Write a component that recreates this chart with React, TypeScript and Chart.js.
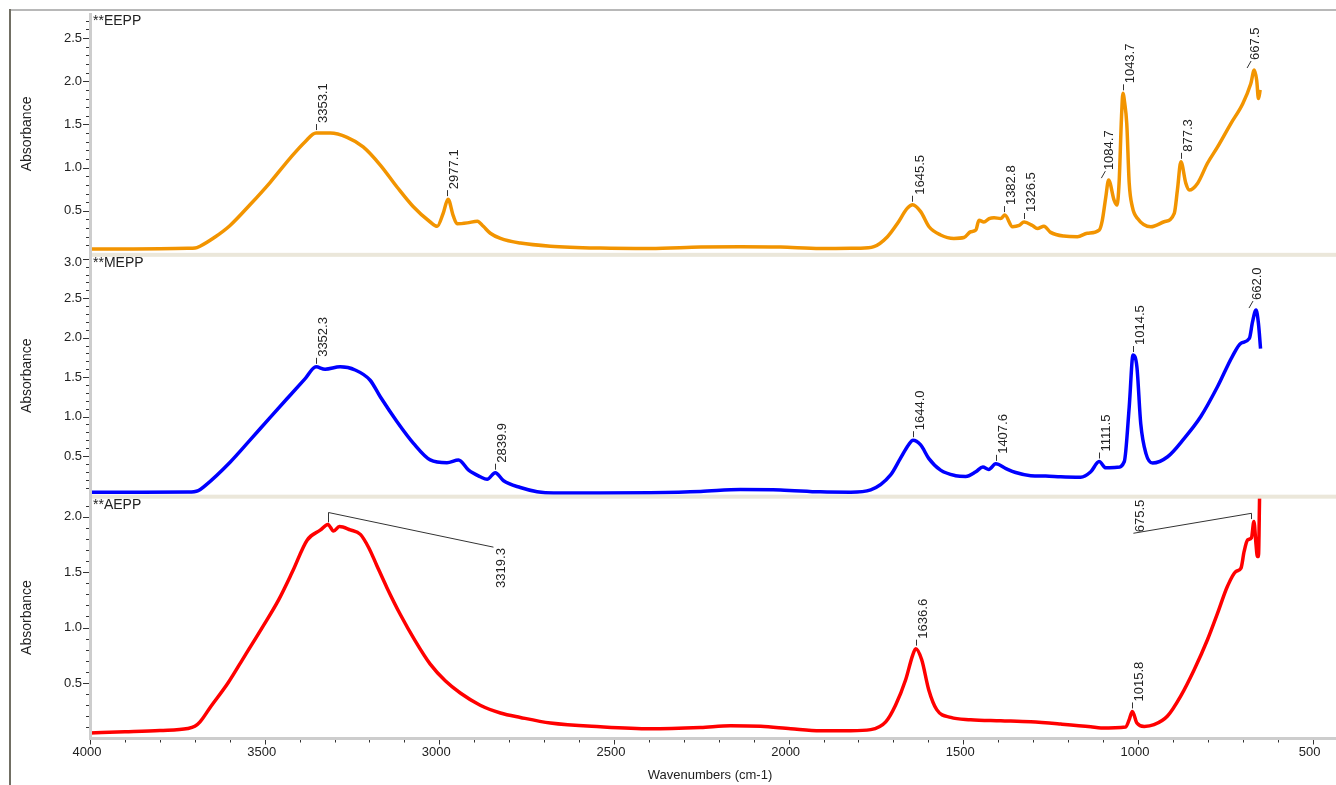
import React, { useEffect, useRef } from "react";
import { Chart, registerables } from "chart.js";

Chart.register(...registerables);

// ---------------- data ----------------
const xTickLabels = ["4000", "3500", "3000", "2500", "2000", "1500", "1000", "500"];
const panelTitles = ["**EEPP", "**MEPP", "**AEPP"];
const yAxisTitle = "Absorbance";
const xAxisTitle = "Wavenumbers (cm-1)";

const eeppYTicks = ["0.5", "1.0", "1.5", "2.0", "2.5"];
const meppYTicks = ["0.5", "1.0", "1.5", "2.0", "2.5", "3.0"];
const aeppYTicks = ["0.5", "1.0", "1.5", "2.0"];

const eeppWavenumbers = [
  4000, 3900, 3800, 3720, 3699, 3685, 3642, 3599, 3542, 3484, 3427, 3384, 3353, 3312, 3264, 3218,
  3169, 3120, 3075, 3026, 3006, 2989, 2975, 2960, 2949, 2920, 2891, 2874, 2854, 2825, 2768, 2682,
  2539, 2396, 2252, 2138, 2023, 1909, 1822, 1794, 1756, 1717, 1689, 1660, 1645, 1622, 1598, 1565,
  1527, 1498, 1479, 1464, 1455, 1441, 1426, 1412, 1393, 1381, 1359, 1340, 1326, 1302, 1288, 1269,
  1250, 1212, 1173, 1145, 1111, 1102, 1092, 1084, 1068, 1060, 1054, 1047, 1043, 1038, 1032, 1025,
  1016, 1001, 963, 925, 896, 887, 877, 863, 853, 829, 801, 772, 734, 700, 677, 667, 660, 655, 650,
];
const eeppAbsorbance = [
  0.057, 0.058, 0.06, 0.065, 0.068, 0.09, 0.196, 0.33, 0.57, 0.83, 1.11, 1.3, 1.4, 1.4, 1.35, 1.24,
  1.03, 0.77, 0.55, 0.37, 0.32, 0.47, 0.635, 0.44, 0.35, 0.36, 0.38, 0.32, 0.24, 0.18, 0.126, 0.09,
  0.068, 0.063, 0.08, 0.085, 0.08, 0.063, 0.066, 0.066, 0.084, 0.2, 0.35, 0.53, 0.57, 0.49, 0.315, 0.22,
  0.18, 0.19, 0.257, 0.277, 0.39, 0.37, 0.41, 0.42, 0.41, 0.45, 0.315, 0.33, 0.37, 0.33, 0.296, 0.32,
  0.25, 0.207, 0.2, 0.24, 0.277, 0.39, 0.66, 0.855, 0.62, 0.566, 0.82, 1.59, 1.86, 1.75, 1.51, 0.82,
  0.546, 0.41, 0.315, 0.373, 0.47, 0.74, 1.067, 0.82, 0.74, 0.82, 1.05, 1.24, 1.51, 1.74, 1.97, 2.13, 2.01, 1.8, 1.9,
];

const meppWavenumbers = [
  4000, 3850, 3720, 3690, 3671, 3599, 3542, 3484, 3427, 3384, 3353, 3327, 3284, 3241, 3198, 3169,
  3121, 3074, 3026, 2978, 2945, 2916, 2883, 2863, 2840, 2816, 2768, 2720, 2673, 2540, 2396, 2252,
  2138, 2023, 1909, 1822, 1765, 1708, 1680, 1657, 1644, 1622, 1599, 1565, 1522, 1493, 1464, 1444,
  1427, 1407, 1378, 1350, 1307, 1264, 1221, 1178, 1164, 1135, 1111, 1092, 1059, 1039, 1025, 1014,
  1003, 992, 977, 958, 915, 868, 820, 772, 730, 705, 681, 672, 662, 655, 649,
];
const meppAbsorbance = [
  0.04, 0.04, 0.042, 0.06, 0.12, 0.42, 0.7, 0.99, 1.27, 1.48, 1.63, 1.6, 1.63, 1.59, 1.46, 1.25,
  0.934, 0.66, 0.45, 0.415, 0.45, 0.32, 0.237, 0.204, 0.288, 0.186, 0.1, 0.047, 0.03, 0.03, 0.035, 0.05,
  0.075, 0.07, 0.045, 0.04, 0.07, 0.26, 0.47, 0.64, 0.7, 0.64, 0.47, 0.32, 0.25, 0.24, 0.3, 0.36,
  0.33, 0.4, 0.34, 0.29, 0.25, 0.245, 0.235, 0.23, 0.23, 0.3, 0.43, 0.35, 0.356, 0.43, 1.12, 1.78,
  1.63, 0.91, 0.53, 0.41, 0.49, 0.72, 1.0, 1.38, 1.76, 1.93, 1.99, 2.2, 2.35, 2.18, 1.86,
];

const aeppWavenumbers = [
  4000, 3900, 3800, 3720, 3700, 3685, 3656, 3605, 3556, 3507, 3460, 3421, 3378, 3340, 3319, 3303,
  3286, 3255, 3226, 3202, 3179, 3150, 3112, 3069, 3026, 2983, 2940, 2883, 2825, 2768, 2682, 2539,
  2396, 2252, 2166, 2080, 1994, 1909, 1822, 1765, 1722, 1694, 1665, 1645, 1636, 1619, 1599, 1576,
  1536, 1479, 1393, 1307, 1221, 1135, 1106, 1035, 1025, 1016, 1003, 982, 954, 916, 878, 839,
  801, 772, 744, 720, 705, 696, 686, 675, 668, 662, 658, 655, 651, 648,
];
const aeppAbsorbance = [
  0.05, 0.06, 0.072, 0.09, 0.11, 0.15, 0.28, 0.5, 0.75, 1.0, 1.25, 1.5, 1.79, 1.88, 1.93, 1.87,
  1.91, 1.88, 1.84, 1.72, 1.56, 1.36, 1.12, 0.88, 0.67, 0.52, 0.41, 0.3, 0.23, 0.19, 0.14, 0.106,
  0.088, 0.1, 0.115, 0.11, 0.088, 0.07, 0.07, 0.08, 0.15, 0.3, 0.53, 0.75, 0.81, 0.71, 0.44, 0.26,
  0.19, 0.17, 0.16, 0.15, 0.13, 0.106, 0.095, 0.104, 0.17, 0.244, 0.14, 0.109, 0.124, 0.2, 0.38, 0.62,
  0.89, 1.13, 1.37, 1.505, 1.536, 1.686, 1.79, 1.81, 1.956, 1.75, 1.64, 1.64, 2.3, 2.4,
];

// peak annotations (wavenumber, peak absorbance)
const eeppPeaks = [
  { wn: 3353.1, abs: 1.4 },
  { wn: 2977.1, abs: 0.635 },
  { wn: 1645.5, abs: 0.57 },
  { wn: 1382.8, abs: 0.45 },
  { wn: 1326.5, abs: 0.37 },
  { wn: 1084.7, abs: 0.855, kind: "slant" },
  { wn: 1043.7, abs: 1.86 },
  { wn: 877.3, abs: 1.067 },
  { wn: 667.5, abs: 2.13, kind: "slant" },
];
const meppPeaks = [
  { wn: 3352.3, abs: 1.63 },
  { wn: 2839.9, abs: 0.288 },
  { wn: 1644.0, abs: 0.7 },
  { wn: 1407.6, abs: 0.4 },
  { wn: 1111.5, abs: 0.43 },
  { wn: 1014.5, abs: 1.78 },
  { wn: 662.0, abs: 2.35, kind: "slant" },
];
const aeppPeaks = [
  { wn: 3319.3, abs: 1.93, kind: "leader", topAbs: 2.037, toWn: 2845, toAbs: 1.725, below: true },
  { wn: 1636.6, abs: 0.81 },
  { wn: 1015.8, abs: 0.244 },
  { wn: 675.5, abs: 1.96, kind: "leader", topAbs: 2.03, toWn: 1013, toAbs: 1.85, below: false },
];

// ---------------- chart ----------------
const W = 1336;
const H = 785;
const FAMILY = 'Arial, "Liberation Sans", sans-serif';
const FONT = "13px " + FAMILY;
const FONT_BIG = "14px " + FAMILY;
const TEXT = "#222";

function toPoints(xs: number[], ys: number[]) {
  return xs.map((x, i) => ({ x, y: ys[i] }));
}

function drawPeak(ctx: any, xs: any, ys: any, p: any) {
  const px = xs.getPixelForValue(p.wn);
  const py = ys.getPixelForValue(p.abs);
  const label = p.wn.toFixed(1);
  ctx.strokeStyle = "#333";
  ctx.lineWidth = 1;
  let ax = px + 1;
  let ay = py - 10;
  let align = "left";
  if (p.kind === "slant") {
    ctx.beginPath();
    ctx.moveTo(px - 7, py - 2);
    ctx.lineTo(px - 3, py - 9);
    ctx.stroke();
    ax = px - 5;
    ay = py - 10;
  } else if (p.kind === "leader") {
    const topY = ys.getPixelForValue(p.topAbs);
    const tx = xs.getPixelForValue(p.toWn);
    const ty = ys.getPixelForValue(p.toAbs);
    ctx.beginPath();
    ctx.moveTo(Math.round(px) + 0.5, py - 2);
    ctx.lineTo(Math.round(px) + 0.5, topY);
    ctx.lineTo(tx, ty);
    ctx.stroke();
    ax = tx + 1;
    if (p.below) {
      ay = ty + 1;
      align = "right";
    } else {
      ay = ty - 1;
      align = "left";
    }
  } else {
    ctx.beginPath();
    ctx.moveTo(Math.round(px) + 0.5, py - 3);
    ctx.lineTo(Math.round(px) + 0.5, py - 9);
    ctx.stroke();
  }
  ctx.save();
  ctx.translate(ax, ay);
  ctx.rotate(-Math.PI / 2);
  ctx.font = FONT;
  ctx.textAlign = align;
  ctx.textBaseline = "top";
  ctx.fillStyle = TEXT;
  ctx.fillText(label, 0, 0);
  ctx.restore();
}

const decorPlugin = {
  id: "ftirDecor",
  afterDatasetsDraw(chart: any) {
    const ctx = chart.ctx;
    const area = chart.chartArea;
    const xs = chart.scales.x;
    const panels = [
      { scale: chart.scales.yE, title: panelTitles[0], ticks: eeppYTicks, peaks: eeppPeaks },
      { scale: chart.scales.yM, title: panelTitles[1], ticks: meppYTicks, peaks: meppPeaks },
      { scale: chart.scales.yA, title: panelTitles[2], ticks: aeppYTicks, peaks: aeppPeaks },
    ];
    ctx.save();

    // outer frame
    ctx.fillStyle = "#b8b8b8";
    ctx.fillRect(9, 9, W - 9, 2);
    ctx.fillStyle = "#716f64";
    ctx.fillRect(9, 9, 2, H - 9);

    // separators between panels
    ctx.fillStyle = "#ebe7da";
    for (let i = 0; i < panels.length - 1; i++) {
      const b = panels[i].scale.bottom;
      ctx.fillRect(area.left + 2, b - 2, area.right - area.left, 4);
    }

    // axis lines
    ctx.fillStyle = "#cdcdcd";
    ctx.fillRect(area.left - 1, area.top, 3, area.bottom - area.top);
    ctx.fillRect(area.left - 1, area.bottom - 1.5, area.right - area.left + 1, 3);

    ctx.fillStyle = TEXT;
    ctx.strokeStyle = "#333";
    ctx.lineWidth = 1;

    for (const p of panels) {
      const s = p.scale;
      const maxI = Math.floor(s.max * 10 + 1e-6);
      ctx.strokeStyle = "#333";
      for (let i = 1; i <= maxI; i++) {
        const y = s.getPixelForValue(i / 10);
        if (y < s.top + 1 || y > s.bottom - 1) continue;
        const major = i % 5 === 0;
        const yy = Math.round(y) + 0.5;
        ctx.beginPath();
        ctx.moveTo(area.left - (major ? 7 : 4), yy);
        ctx.lineTo(area.left - 1, yy);
        ctx.stroke();
      }
      ctx.font = FONT;
      ctx.fillStyle = TEXT;
      ctx.textAlign = "right";
      ctx.textBaseline = "middle";
      for (const t of p.ticks) {
        const y = s.getPixelForValue(parseFloat(t));
        ctx.fillText(t, area.left - 8, Math.max(y, s.top + 8));
      }
      ctx.font = FONT_BIG;
      ctx.textAlign = "left";
      ctx.fillText(p.title, area.left + 3, s.top + 8);
      ctx.save();
      ctx.translate(27, (s.top + s.bottom) / 2);
      ctx.rotate(-Math.PI / 2);
      ctx.textAlign = "center";
      ctx.textBaseline = "middle";
      ctx.fillText(yAxisTitle, 0, 0);
      ctx.restore();
      for (const pk of p.peaks) drawPeak(ctx, xs, s, pk);
    }

    // x ticks
    ctx.strokeStyle = "#333";
    for (let v = 500; v <= 4000; v += 100) {
      const x = xs.getPixelForValue(v);
      if (x < area.left - 1 || x > area.right) continue;
      const major = v % 500 === 0;
      const xx = Math.round(x) + 0.5;
      ctx.beginPath();
      ctx.moveTo(xx, area.bottom + 1.5);
      ctx.lineTo(xx, area.bottom + (major ? 6 : 4));
      ctx.stroke();
    }
    ctx.font = FONT;
    ctx.fillStyle = TEXT;
    ctx.textAlign = "center";
    ctx.textBaseline = "middle";
    for (const t of xTickLabels) {
      const x = xs.getPixelForValue(parseFloat(t));
      ctx.fillText(t, x - 3, area.bottom + 14);
    }
    ctx.fillText(xAxisTitle, 710, area.bottom + 37);

    ctx.restore();
  },
};

function yScale(min: number, max: number) {
  return {
    type: "linear",
    position: "left",
    stack: "ftir",
    stackWeight: 1,
    min,
    max,
    display: true,
    grid: { display: false, drawTicks: false },
    border: { display: false },
    ticks: { display: false },
    title: { display: false },
    afterFit: (s: any) => {
      s.width = 90;
    },
  };
}

export default function App() {
  const ref = useRef<HTMLCanvasElement | null>(null);
  useEffect(() => {
    if (!ref.current) return;
    const common = {
      fill: false,
      borderWidth: 3.5,
      pointRadius: 0,
      cubicInterpolationMode: "monotone",
    };
    const chart = new Chart(ref.current, {
      type: "line",
      data: {
        datasets: [
          { ...common, label: "EEPP", data: toPoints(eeppWavenumbers, eeppAbsorbance), borderColor: "#F29400", yAxisID: "yE" },
          { ...common, label: "MEPP", data: toPoints(meppWavenumbers, meppAbsorbance), borderColor: "#0000FF", yAxisID: "yM" },
          { ...common, label: "AEPP", data: toPoints(aeppWavenumbers, aeppAbsorbance), borderColor: "#FF0000", yAxisID: "yA" },
        ],
      } as any,
      options: {
        animation: false,
        responsive: false,
        devicePixelRatio: 1,
        layout: { padding: { top: 13, bottom: 46.5, left: 0, right: 0 } },
        plugins: { legend: { display: false }, tooltip: { enabled: false } },
        events: [],
        scales: {
          x: { type: "linear", reverse: true, min: 433, max: 4000, display: false },
          yA: yScale(0, 2.18),
          yM: yScale(-0.016, 3.05),
          yE: yScale(-0.01, 2.79),
        },
      } as any,
      plugins: [decorPlugin],
    });
    return () => chart.destroy();
  }, []);

  return (
    <div style={{ position: "fixed", left: 0, top: 0, width: W, height: H, background: "#fff" }}>
      <canvas ref={ref} width={W} height={H} style={{ display: "block" }} />
    </div>
  );
}
